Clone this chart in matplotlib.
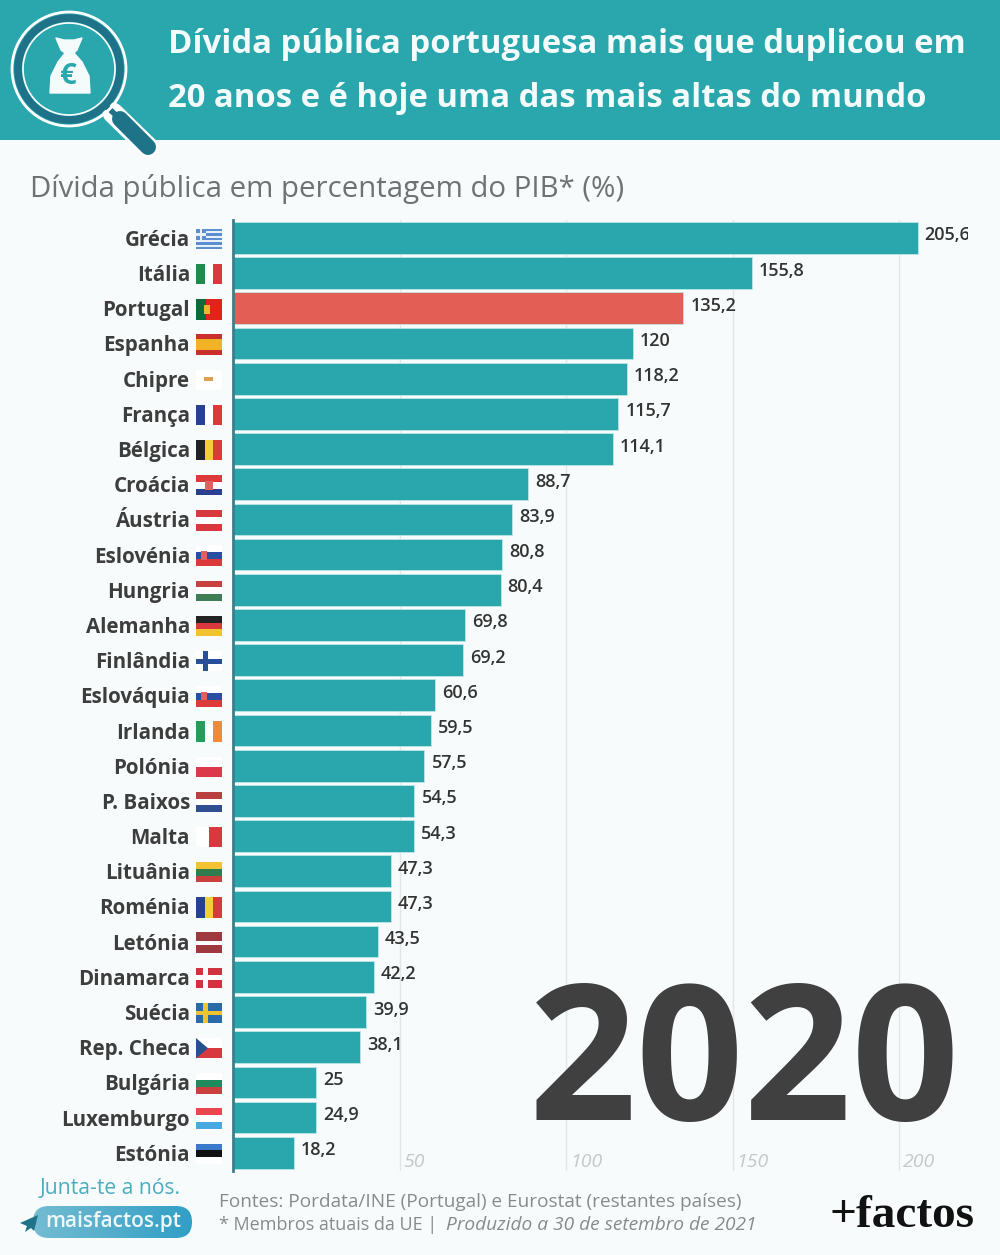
import numpy as np
import matplotlib
matplotlib.use('Agg')
import matplotlib.pyplot as plt
from matplotlib.patches import Rectangle, Circle, Polygon, FancyBboxPatch
from matplotlib.transforms import blended_transform_factory

countries = ['Grécia', 'Itália', 'Portugal', 'Espanha', 'Chipre', 'França', 'Bélgica',
             'Croácia', 'Áustria', 'Eslovénia', 'Hungria', 'Alemanha', 'Finlândia',
             'Eslováquia', 'Irlanda', 'Polónia', 'P. Baixos', 'Malta', 'Lituânia',
             'Roménia', 'Letónia', 'Dinamarca', 'Suécia', 'Rep. Checa', 'Bulgária',
             'Luxemburgo', 'Estónia']
values = [205.6, 155.8, 135.2, 120, 118.2, 115.7, 114.1, 88.7, 83.9, 80.8, 80.4, 69.8,
          69.2, 60.6, 59.5, 57.5, 54.5, 54.3, 47.3, 47.3, 43.5, 42.2, 39.9, 38.1, 25,
          24.9, 18.2]
grid_ticks = [50, 100, 150, 200]

# stripes of each flag: direction and colours, repeated colours make a wider band
flags = {
    'Grécia': ('h', ['#5b8fd0', '#e8f0f8', '#5b8fd0', '#e8f0f8', '#5b8fd0', '#e8f0f8', '#5b8fd0', '#e8f0f8', '#5b8fd0']),
    'Itália': ('v', ['#1f8a4c', '#ffffff', '#d8393f']),
    'Portugal': ('v', ['#0b6b3a', '#0b6b3a', '#e0231c', '#e0231c', '#e0231c']),
    'Espanha': ('h', ['#c9302c', '#f2b225', '#f2b225', '#c9302c']),
    'Chipre': ('h', ['#ffffff']),
    'França': ('v', ['#27408f', '#ffffff', '#dc3a3a']),
    'Bélgica': ('v', ['#222222', '#f3cd3a', '#dc3a3a']),
    'Croácia': ('h', ['#dc3a3a', '#ffffff', '#2a3f8f']),
    'Áustria': ('h', ['#d8393f', '#ffffff', '#d8393f']),
    'Eslovénia': ('h', ['#ffffff', '#2a4fa0', '#dc3a3a']),
    'Hungria': ('h', ['#c8413f', '#ffffff', '#3f7d55']),
    'Alemanha': ('h', ['#222222', '#d8393f', '#f2c230']),
    'Finlândia': ('h', ['#ffffff']),
    'Eslováquia': ('h', ['#ffffff', '#2a4fa0', '#dc3a3a']),
    'Irlanda': ('v', ['#2a9a5a', '#ffffff', '#f08a35']),
    'Polónia': ('h', ['#ffffff', '#dc3a4a']),
    'P. Baixos': ('h', ['#b8403f', '#ffffff', '#2f4f90']),
    'Malta': ('v', ['#ffffff', '#d8393f']),
    'Lituânia': ('h', ['#f2c230', '#2f7d4f', '#c8413f']),
    'Roménia': ('v', ['#27408f', '#f3cd3a', '#d8393f']),
    'Letónia': ('h', ['#9e3a3f', '#9e3a3f', '#ffffff', '#9e3a3f', '#9e3a3f']),
    'Dinamarca': ('h', ['#d0333f']),
    'Suécia': ('h', ['#2a6aa8']),
    'Rep. Checa': ('h', ['#ffffff', '#d8393f']),
    'Bulgária': ('h', ['#ffffff', '#1f8a5c', '#c8413f']),
    'Luxemburgo': ('h', ['#e8474f', '#ffffff', '#4aa8e0']),
    'Estónia': ('h', ['#3a7ac8', '#111111', '#ffffff']),
}
crosses = {'Finlândia': '#2a4f9a', 'Suécia': '#f2c230', 'Dinamarca': '#ffffff'}

BG = '#f8fbfb'
TEAL = '#2aa6ad'
RED = '#e35f55'
DARK_TEAL = '#1f7389'
TEXT = '#3d3d3d'
GREY = '#868b8b'

plt.rcParams['font.family'] = ['Open Sans', 'DejaVu Sans']

W, H = 1000, 1255
fig = plt.figure(figsize=(W / 100, H / 100), dpi=100, facecolor=BG)


def px_axes(left, top, right, bottom):
    return fig.add_axes([left / W, 1 - bottom / H, (right - left) / W, (bottom - top) / H])


# main chart
ax = px_axes(233, 220, 968, 1171)
ax.set_facecolor('none')
y = np.arange(len(countries))
colors = [RED if c == 'Portugal' else TEAL for c in countries]
ax.barh(y, values, height=0.9, color=colors, edgecolor='#bfe6e6', linewidth=0.6, zorder=2)
ax.set_xlim(0, 735 / 3.33)
ax.set_ylim(26.52, -0.51)
ax.set_xticks(grid_ticks)
ax.set_xticklabels([])
ax.tick_params(length=0)
ax.grid(axis='x', color='#e3e6e6', linewidth=1, zorder=0)
for s in ['top', 'right', 'bottom']:
    ax.spines[s].set_visible(False)
ax.spines['left'].set_color('#3f7f88')
ax.spines['left'].set_linewidth(2)
ax.set_yticks(y)
ax.set_yticklabels(countries, fontsize=14.8, fontweight='bold', color=TEXT)
ax.tick_params(axis='y', pad=31)

for i, v in enumerate(values):
    ax.text(v + 2.1, i - 0.07, f'{v:g}'.replace('.', ','), fontsize=13, fontweight=600, color='#333333',
            va='center', ha='left', clip_on=True, zorder=3)
for t in grid_ticks:
    ax.text(t + 1.2, 26.27, str(t), fontsize=14, style='italic', color='#c4c8c8',
            va='center', ha='left', zorder=1)

# flags, x in page pixels and y on the category axis
over = px_axes(0, 0, W, H)
over.set_xlim(0, W)
over.set_ylim(H, 0)
over.axis('off')
over.patch.set_alpha(0)
over.set_zorder(ax.get_zorder() + 1)
tr = blended_transform_factory(over.transData, ax.transData)
FX, FW, FH = 196, 26, 0.58


def flag_rect(x, yy, w, h, col):
    ax.add_patch(Rectangle((x, yy), w, h, fc=col, ec='none', transform=tr, clip_on=False))


for i, c in enumerate(countries):
    d, cols = flags[c]
    top = i - FH / 2 + 0.03
    n = len(cols)
    for k, col in enumerate(cols):
        if d == 'h':
            flag_rect(FX, top + FH * k / n, FW, FH / n, col)
        else:
            flag_rect(FX + FW * k / n, top, FW / n, FH, col)
    if c in crosses:
        flag_rect(FX + 7, top, 5, FH, crosses[c])
        flag_rect(FX, top + FH * 0.38, FW, FH * 0.24, crosses[c])
    if c == 'Grécia':
        flag_rect(FX, top, 10, FH * 0.55, '#5b8fd0')
        flag_rect(FX + 4, top, 2, FH * 0.55, '#e8f0f8')
        flag_rect(FX, top + FH * 0.22, 10, FH * 0.11, '#e8f0f8')
    if c == 'Portugal':
        flag_rect(FX + 8, i - 0.1, 6, 0.26, '#e8b830')
    if c == 'Chipre':
        flag_rect(FX + 8, i - 0.05, 9, 0.12, '#e0a050')
    if c == 'Rep. Checa':
        ax.add_patch(Polygon([(FX, top), (FX + 12, i + 0.03), (FX, top + FH)], fc='#27508f', ec='none',
                             transform=tr, clip_on=False))
    if c == 'Croácia':
        flag_rect(FX + 9, i - 0.1, 8, 0.26, '#e06060')
    if c in ('Eslováquia', 'Eslovénia'):
        flag_rect(FX + 5, i - 0.1, 6, 0.24, '#e06060')

# header
over.add_patch(Rectangle((0, 0), W, 140, fc=TEAL, ec='none', zorder=1))
over.text(168, 53, 'Dívida pública portuguesa mais que duplicou em', fontsize=23.7,
          fontweight='bold', color='#f4fbfb', va='baseline', ha='left', zorder=5)
over.text(168, 107, '20 anos e é hoje uma das mais altas do mundo', fontsize=23.7,
          fontweight='bold', color='#f4fbfb', va='baseline', ha='left', zorder=5)

# magnifier
over.plot([113, 148], [113, 147], color='white', lw=15, solid_capstyle='round', zorder=2)
over.plot([120, 148], [119, 147], color=DARK_TEAL, lw=11.5, solid_capstyle='round', zorder=3)
over.plot([105, 120], [105, 119], color=DARK_TEAL, lw=4, zorder=3)
over.add_patch(Circle((69, 69), 57, fc='none', ec='white', lw=2, zorder=3))
over.add_patch(Circle((69, 69), 51, fc=TEAL, ec=DARK_TEAL, lw=5.5, zorder=3))
over.add_patch(Circle((69, 69), 46, fc='none', ec='white', lw=1.2, zorder=3))
over.add_patch(Polygon([(56, 38), (64, 40), (74, 40), (82, 38), (77, 50), (74, 53), (82, 62), (89, 76),
                        (90, 93), (50, 93), (51, 76), (58, 62), (65, 53), (61, 50)],
                       fc='#f4fbfb', ec='#f4fbfb', lw=1, joinstyle='round', zorder=4))
over.text(68, 76, '€', fontsize=21, fontweight='bold', color=TEAL, ha='center', va='center', zorder=5)

# subtitle
over.text(30, 197, 'Dívida pública em percentagem do PIB* (%)', fontsize=21.2, color='#6e7272',
          va='baseline', ha='left')

# year
over.text(745, 1120, '2020', fontsize=136, fontweight='bold', color='#404040',
          ha='center', va='baseline', zorder=6)

# footer
over.text(40, 1189, 'Junta-te a nós.', fontsize=15.2, color='#4aaebf', va='center', ha='left')
grad = np.linspace(0, 1, 256).reshape(1, -1)
cm = matplotlib.colors.LinearSegmentedColormap.from_list('pill', ['#74bcd2', '#319fc6'])
pill = FancyBboxPatch((33, 1206), 159, 32, boxstyle='round,pad=0,rounding_size=16', fc='none', ec='none',
                      transform=over.transData)
over.add_patch(pill)
im = over.imshow(grad, cmap=cm, extent=(33, 192, 1238, 1206), aspect='auto', zorder=2)
im.set_clip_path(pill)
over.set_xlim(0, W)
over.set_ylim(H, 0)
over.text(45, 1222, 'maisfactos.pt', fontsize=15, fontweight=600, color='#eef8fb', va='center', ha='left', zorder=3)
over.add_patch(Polygon([(38, 1215), (20, 1223), (27, 1226), (25, 1232), (31, 1228), (34, 1231)],
                       fc=DARK_TEAL, ec='none', zorder=3))
over.text(219, 1207, 'Fontes: Pordata/INE (Portugal) e Eurostat (restantes países)', fontsize=13.65,
          color=GREY, va='baseline', ha='left')
over.text(219, 1230, '* Membros atuais da UE |', fontsize=13, color=GREY, va='baseline', ha='left')
over.text(446, 1230, 'Produzido a 30 de setembro de 2021', fontsize=13.8, style='italic', color=GREY,
          va='baseline', ha='left')
over.text(829, 1227, '+factos', fontsize=34, fontweight='bold', family='Liberation Serif', color='#111111',
          va='baseline', ha='left')

fig.savefig('out.png', dpi=100, facecolor=BG)
